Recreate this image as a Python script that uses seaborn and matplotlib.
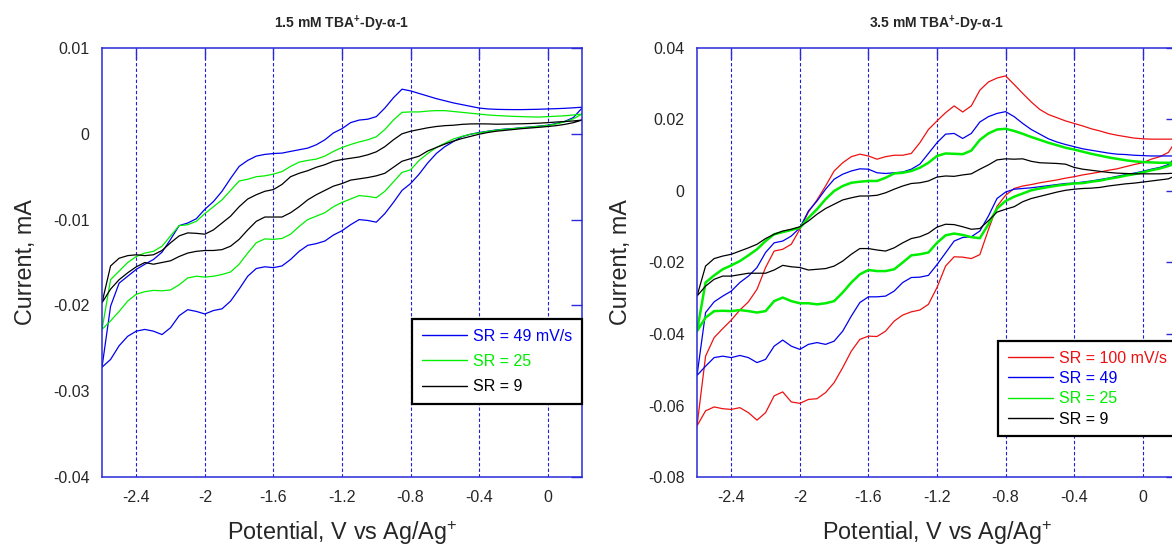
import numpy as np
import pandas as pd
import seaborn as sns
import matplotlib
matplotlib.use('Agg')
import matplotlib.pyplot as plt
from matplotlib.ticker import FuncFormatter

potential = np.round(np.arange(-2.6, 0.2001, 0.05), 2)

# currents in uA (converted to mA when plotted), listed from -2.6 V to 0.2 V
# fwd = cathodic sweep (lower branch), rev = return sweep (upper branch)

# --- 1.5 mM ---
a_sr49_fwd = [-27.2, -26.3, -24.7, -23.6, -23.0, -22.8, -23.0, -23.4, -22.6, -21.2,
              -20.5, -20.7, -21.0, -20.6, -20.4, -19.5, -18.1, -16.6, -15.7, -15.5,
              -15.6, -15.4, -14.65, -13.7, -13.0, -12.8, -12.5, -11.8, -11.3, -10.6,
              -10.0, -10.1, -10.3, -9.3, -8.0, -6.6, -5.8, -4.7, -3.4, -2.3,
              -1.5, -0.9, -0.33, -0.05, 0.15, 0.3, 0.45, 0.55, 0.62, 0.72,
              0.8, 0.9, 1.0, 1.2, 1.45, 1.9, 3.0]
a_sr49_rev = [-27.2, -20.1, -17.4, -16.6, -15.8, -15.2, -14.65, -13.8, -12.3, -10.7,
              -10.4, -9.9, -8.8, -7.9, -6.7, -5.2, -3.8, -3.1, -2.6, -2.4,
              -2.3, -2.25, -2.05, -1.86, -1.67, -1.28, -0.7, 0.1, 0.6, 1.3,
              1.6, 1.7, 2.0, 3.0, 4.2, 5.2, 5.0, 4.7, 4.4, 4.1,
              3.85, 3.6, 3.4, 3.2, 3.0, 2.9, 2.85, 2.83, 2.82, 2.82,
              2.84, 2.86, 2.9, 2.93, 2.97, 3.03, 3.1]
a_sr25_fwd = [-22.8, -21.8, -20.7, -19.5, -18.7, -18.4, -18.25, -18.3, -18.2, -17.6,
              -16.8, -16.6, -16.7, -16.6, -16.4, -16.1, -15.2, -13.9, -12.7, -12.25,
              -12.3, -12.2, -11.7, -10.8, -10.0, -9.6, -9.2, -8.5, -8.0, -7.6,
              -7.2, -7.3, -7.45, -6.7, -5.6, -4.5, -4.2, -3.1, -2.3, -1.6,
              -1.1, -0.6, -0.3, -0.05, 0.1, 0.28, 0.42, 0.52, 0.6, 0.7,
              0.78, 0.87, 0.97, 1.15, 1.4, 1.75, 2.3]
a_sr25_rev = [-22.8, -17.0, -16.0, -15.0, -14.3, -13.9, -13.7, -13.1, -11.9, -10.7,
              -10.6, -10.2, -9.3, -8.5, -7.7, -6.6, -5.5, -5.3, -5.0, -4.9,
              -4.7, -4.4, -3.8, -3.3, -3.1, -2.95, -2.6, -2.05, -1.6, -1.25,
              -0.95, -0.7, -0.35, 0.5, 1.6, 2.5, 2.55, 2.55, 2.65, 2.7,
              2.7, 2.6, 2.5, 2.4, 2.3, 2.2, 2.13, 2.08, 2.03, 2.0,
              1.97, 1.95, 2.0, 2.05, 2.1, 2.2, 2.3]
a_sr9_fwd = [-19.7, -18.1, -17.0, -16.2, -15.5, -15.0, -15.2, -15.0, -14.8, -14.3,
             -13.9, -13.7, -13.6, -13.6, -13.5, -13.1, -12.3, -11.2, -10.2, -9.7,
             -9.7, -9.7, -9.2, -8.5, -7.7, -7.1, -6.6, -6.1, -5.8, -5.4,
             -5.25, -5.1, -4.9, -4.6, -3.9, -3.2, -2.9, -2.6, -2.0, -1.6,
             -1.2, -0.85, -0.55, -0.3, -0.05, 0.15, 0.3, 0.4, 0.5, 0.6,
             0.68, 0.76, 0.85, 0.95, 1.1, 1.3, 1.6]
a_sr9_rev = [-19.7, -15.4, -14.5, -14.2, -14.1, -14.2, -14.1, -13.6, -12.7, -11.9,
             -11.55, -11.6, -11.7, -11.2, -10.4, -9.6, -8.5, -7.6, -7.1, -6.7,
             -6.5, -5.9, -5.0, -4.6, -4.3, -3.9, -3.6, -3.2, -3.0, -2.85,
             -2.7, -2.45, -2.1, -1.5, -0.7, 0.0, 0.3, 0.5, 0.7, 0.85,
             0.95, 1.0, 1.1, 1.15, 1.16, 1.15, 1.12, 1.13, 1.15, 1.17,
             1.2, 1.24, 1.3, 1.37, 1.43, 1.5, 1.6]

# --- 3.5 mM ---
b_sr100_fwd = [-65.7, -61.5, -60.4, -60.9, -61.1, -60.6, -62.0, -64.1, -62.0, -57.3,
               -56.2, -59.0, -59.4, -58.3, -58.1, -56.4, -53.6, -49.4, -44.8, -41.5,
               -40.6, -40.7, -39.2, -36.4, -34.7, -33.8, -33.3, -31.7, -27.0, -21.0,
               -18.4, -18.5, -18.9, -17.8, -10.8, -4.3, -1.2, 0.7, 1.4, 1.8,
               2.3, 2.7, 3.1, 3.6, 4.0, 4.5, 4.9, 5.3, 5.8, 6.2,
               6.8, 7.4, 7.9, 8.9, 9.6, 10.8, 14.5]
b_sr100_rev = [-65.7, -46.2, -41.0, -38.5, -36.1, -33.3, -31.0, -27.5, -21.4, -16.8,
               -16.3, -14.9, -10.7, -5.9, -2.5, 1.4, 5.6, 7.9, 9.6, 10.3,
               9.8, 8.9, 9.6, 10.0, 10.0, 10.5, 13.5, 17.2, 19.6, 21.9,
               23.8, 22.1, 23.8, 28.2, 30.5, 31.6, 32.2, 29.8, 27.3, 24.9,
               22.8, 21.4, 20.5, 19.6, 18.9, 18.2, 17.4, 16.8, 16.1, 15.6,
               15.2, 14.8, 14.6, 14.5, 14.5, 14.5, 14.5]
b_sr49_fwd = [-51.6, -49.0, -46.6, -46.2, -46.6, -46.0, -46.6, -48.0, -47.1, -43.4,
              -41.7, -43.4, -44.3, -42.9, -42.4, -42.9, -42.0, -39.2, -35.0, -31.2,
              -29.6, -29.6, -29.4, -28.0, -25.6, -24.2, -24.1, -23.6, -20.6, -17.3,
              -14.0, -13.0, -12.8, -11.2, -7.0, -2.1, -0.3, 0.5, 0.7, 0.9,
              1.2, 1.5, 1.8, 2.1, 2.2, 2.5, 2.8, 3.2, 3.6, 4.1,
              4.6, 5.0, 5.5, 6.1, 6.6, 7.4, 9.8]
b_sr49_rev = [-51.6, -34.0, -31.0, -29.4, -28.0, -25.6, -23.8, -21.4, -17.2, -14.5,
              -14.0, -12.6, -10.3, -5.6, -2.8, 0.5, 3.3, 4.7, 5.6, 6.2,
              6.1, 5.1, 4.9, 5.1, 5.3, 6.1, 7.5, 10.5, 13.5, 15.9,
              16.1, 14.7, 16.1, 19.3, 20.8, 21.7, 22.2, 20.8, 18.9, 17.2,
              15.9, 14.6, 13.7, 13.0, 12.4, 11.8, 11.4, 11.0, 10.6, 10.3,
              10.2, 10.0, 9.9, 9.8, 9.8, 9.8, 9.8]
b_sr25_fwd = [-39.2, -35.4, -33.6, -33.5, -33.6, -33.3, -33.6, -34.0, -33.6, -30.8,
              -29.8, -30.8, -31.4, -31.4, -31.7, -31.4, -30.8, -28.4, -25.6, -23.3,
              -22.1, -22.4, -22.4, -21.9, -20.0, -18.0, -17.7, -17.2, -14.5, -12.4,
              -11.9, -12.3, -12.9, -13.2, -9.3, -4.9, -2.8, -1.6, -0.7, 0.2,
              0.7, 1.1, 1.5, 1.8, 2.1, 2.2, 2.6, 2.9, 3.4, 3.8,
              4.3, 4.7, 5.2, 5.8, 6.3, 7.0, 7.9]
b_sr25_rev = [-39.2, -25.6, -23.6, -21.9, -20.8, -19.6, -18.0, -16.3, -14.0, -12.1,
              -11.5, -10.9, -10.3, -7.5, -5.1, -2.3, 0.0, 1.4, 2.3, 2.6,
              2.8, 2.8, 3.7, 4.9, 5.1, 5.6, 6.5, 7.9, 9.8, 10.5,
              10.4, 10.3, 11.3, 14.3, 16.1, 17.2, 17.4, 16.8, 16.0, 15.1,
              14.3, 13.5, 12.8, 12.1, 11.6, 11.0, 10.4, 9.9, 9.4, 9.0,
              8.6, 8.3, 8.1, 8.0, 7.9, 7.9, 7.9]
b_sr9_fwd = [-29.4, -26.6, -24.7, -23.8, -23.8, -23.4, -23.0, -23.0, -23.0, -22.1,
             -20.8, -21.2, -21.4, -22.1, -21.9, -21.7, -21.0, -19.6, -17.7, -16.1,
             -16.1, -16.5, -16.8, -15.9, -14.5, -13.3, -12.8, -11.8, -10.1, -9.3,
             -9.4, -10.0, -10.7, -10.5, -8.3, -5.9, -5.1, -4.4, -3.0, -2.1,
             -1.5, -0.9, -0.3, 0.2, 0.5, 0.7, 0.8, 1.0, 1.4, 1.7,
             2.0, 2.2, 2.5, 2.8, 3.1, 3.4, 4.5]
b_sr9_rev = [-29.4, -21.0, -18.9, -18.2, -17.7, -16.8, -15.9, -14.9, -13.3, -12.1,
             -11.2, -10.7, -10.0, -8.4, -6.5, -4.9, -3.7, -2.5, -1.9, -1.4,
             -1.4, -1.2, -0.5, 0.5, 1.4, 2.1, 2.3, 2.8, 3.9, 4.2,
             4.1, 4.5, 4.8, 6.1, 7.3, 8.7, 9.0, 8.9, 9.0, 8.3,
             7.9, 7.8, 7.7, 7.5, 6.6, 6.1, 5.8, 5.5, 5.2, 5.0,
             4.9, 4.8, 4.8, 4.8, 4.8, 4.9, 5.0]

BLUE = '#0000ee'
GREEN = '#00ee00'
RED = '#ee1111'
FRAME = '#2a2ad8'

panel_a = [('SR = 49 mV/s', a_sr49_fwd, a_sr49_rev, BLUE, 0.9),
           ('SR = 25', a_sr25_fwd, a_sr25_rev, GREEN, 0.9),
           ('SR = 9', a_sr9_fwd, a_sr9_rev, 'black', 0.9)]
panel_b = [('SR = 100 mV/s', b_sr100_fwd, b_sr100_rev, RED, 0.9),
           ('SR = 49', b_sr49_fwd, b_sr49_rev, BLUE, 0.9),
           ('SR = 25', b_sr25_fwd, b_sr25_rev, GREEN, 1.8),
           ('SR = 9', b_sr9_fwd, b_sr9_rev, 'black', 0.9)]


def cv_loop(fwd, rev):
    # cathodic sweep from +0.2 V down to -2.6 V, then back up
    e = np.concatenate([potential[::-1], potential[1:]])
    i = np.concatenate([np.array(fwd)[::-1], np.array(rev)[1:]]) / 1000.0
    return pd.DataFrame({'E': e, 'I': i})


sns.set_style('white')
plt.rcParams['font.family'] = ['Liberation Sans', 'DejaVu Sans']
plt.rcParams['mathtext.fontset'] = 'custom'
plt.rcParams['mathtext.rm'] = 'Liberation Sans'
plt.rcParams['mathtext.bf'] = 'Liberation Sans:bold'
plt.rcParams['axes.unicode_minus'] = False

fig = plt.figure(figsize=(11.72, 5.48), dpi=100)
W, H = 1172.0, 548.0
ax1 = fig.add_axes([102 / W, (H - 477) / H, 480 / W, 429 / H])
ax2 = fig.add_axes([697 / W, (H - 477) / H, 480 / W, 429 / H])


def draw(ax, curves, yticks, title, legend_xy, spacing):
    for label, fwd, rev, color, lw in curves:
        df = cv_loop(fwd, rev)
        sns.lineplot(data=df, x='E', y='I', sort=False, estimator=None,
                     color=color, linewidth=lw, label=label, ax=ax)
    ax.set_xlim(-2.6, 0.2)
    ax.set_ylim(yticks[0], yticks[-1])
    ax.set_xticks([-2.4, -2.0, -1.6, -1.2, -0.8, -0.4, 0.0])
    ax.set_yticks(yticks)
    fmt = FuncFormatter(lambda v, p: '%g' % round(v, 3))
    ax.xaxis.set_major_formatter(fmt)
    ax.yaxis.set_major_formatter(fmt)
    ax.grid(False)
    for xv in [-2.4, -2.0, -1.6, -1.2, -0.8, -0.4, 0.0]:
        ax.axvline(xv, color='#1e1ee0', lw=0.8, ls=(0, (3, 2)), zorder=0.5)
    for sp in ax.spines.values():
        sp.set_color(FRAME)
        sp.set_linewidth(1.1)
    ax.tick_params(direction='in', length=8, width=1, color=FRAME,
                   top=True, right=True, labelsize=11.5, pad=9)
    ax.set_xlabel('Potential, V vs Ag/Ag$^{+}$', fontsize=16.8)
    ax.set_ylabel('Current, mA', fontsize=16.8)
    ax.xaxis.set_label_coords(0.5, -0.098)
    ax.yaxis.set_label_coords(-0.135, 0.5)
    ax.set_title(title, fontsize=10, fontweight='bold', pad=14)
    leg = ax.legend(loc='upper left', bbox_to_anchor=legend_xy,
                    bbox_transform=fig.transFigure, borderaxespad=0,
                    fontsize=11.5, handlelength=2.85, handletextpad=0.36,
                    labelspacing=spacing, borderpad=0.6, fancybox=False,
                    framealpha=1, edgecolor='black')
    leg.get_frame().set_linewidth(1.6)
    for line, text in zip(leg.get_lines(), leg.get_texts()):
        line.set_linewidth(1.0)
        text.set_color(line.get_color())


draw(ax1, panel_a, [-0.04, -0.03, -0.02, -0.01, 0.0, 0.01],
     '1.5 mM TBA$^{\\mathbf{+}}$-Dy-α-1', (412 / W, 1 - 319 / H), 0.65)
draw(ax2, panel_b, [-0.08, -0.06, -0.04, -0.02, 0.0, 0.02, 0.04],
     '3.5 mM TBA$^{\\mathbf{+}}$-Dy-α-1', (998 / W, 1 - 341 / H), 0.34)

fig.savefig('out.png', dpi=100)
